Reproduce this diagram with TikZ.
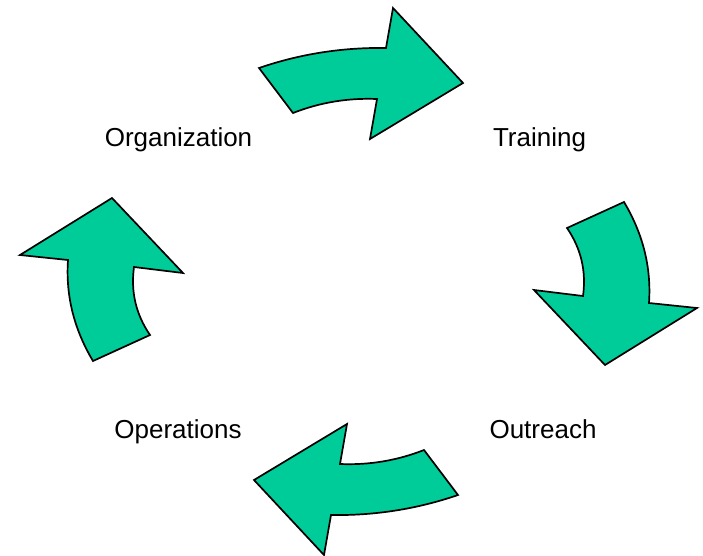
\documentclass[tikz,border=0pt]{standalone}
\usepackage{fontspec}
\setmainfont{Liberation Sans}
\definecolor{arrowgreen}{RGB}{0,204,153}
\begin{document}
\begin{tikzpicture}[x=1pt,y=-1pt,
  arr/.style={fill=arrowgreen, draw=black, line width=1.7pt, line join=miter},
  lbl/.style={font=\fontsize{26}{31}\selectfont, anchor=base, inner sep=0pt}]
\useasboundingbox (0,0) rectangle (703,555);
\def\toparrow{(259,68) .. controls (300.1,53.9) and (342.5,47.3) .. (386,48)
  -- (393,8) -- (463,83) -- (370,139) -- (377,99)
  .. controls (348,97.8) and (320,102.4) .. (293,113) -- cycle}
\def\rightarrow{(567,228) -- (624,202) .. controls (642.5,233) and (651.5,266.5) .. (649,303)
  -- (697,308) -- (605,365) -- (534,290) -- (583,296)
  .. controls (586.4,271.2) and (581.1,248.6) .. (567,228) -- cycle}
\path[arr] \toparrow;
\path[arr] \rightarrow;
\begin{scope}[rotate around={180:(358.5,281.5)}]
\path[arr] \toparrow;
\path[arr] \rightarrow;
\end{scope}
\node[lbl] (org) at (178.5,146) {Organization};
\node[lbl] (trn) at (539.5,146) {Training};
\node[lbl] (out) at (543,438) {Outreach};
\node[lbl] (ops) at (178,438) {Operations};
\end{tikzpicture}
\end{document}
